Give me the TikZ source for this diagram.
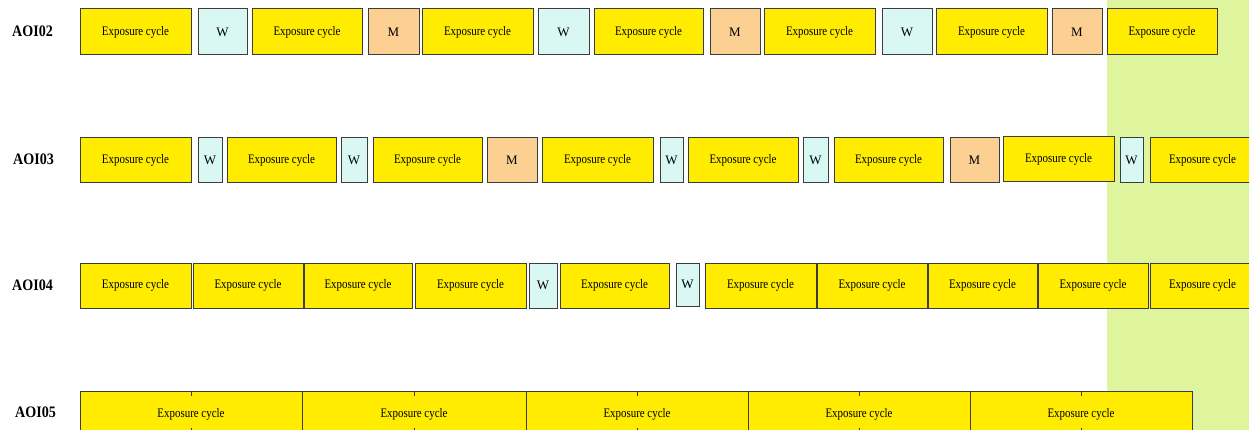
\documentclass[tikz,border=0pt]{standalone}
\usepackage{fontspec}
\setmainfont{Liberation Serif}
\newfontfamily\cycfont[FakeStretch=0.84]{Liberation Serif}
\newfontfamily\aoifont[FakeStretch=0.88]{Liberation Serif}

\definecolor{cycyellow}{RGB}{255,236,0}
\definecolor{waitcyan}{RGB}{217,247,243}
\definecolor{movepeach}{RGB}{252,207,146}
\definecolor{bandgreen}{RGB}{222,245,158}
\definecolor{edgegray}{RGB}{60,60,60}

\tikzset{
  slot/.style={rectangle, draw=edgegray, line width=1pt, inner sep=0pt, outer sep=0pt},
  expo/.style={slot, fill=cycyellow, font=\cycfont\fontsize{13}{15}\selectfont},
  wait/.style={slot, fill=waitcyan, font=\fontsize{13}{15}\selectfont},
  move/.style={slot, fill=movepeach, font=\fontsize{13}{15}\selectfont},
  rowlabel/.style={anchor=west, inner sep=0pt, font=\aoifont\bfseries\fontsize{16}{18}\selectfont},
  tick/.style={draw=edgegray, line width=1pt},
}

% \slotbox{style}{name}{x-left}{x-right}{y-top}{y-bottom}{text}
\newcommand\slotbox[7]{%
  \node[#1, minimum width={(#4)-(#3)}, minimum height={(#6)-(#5)}]
    (#2) at ({((#3)+(#4))/2},{((#5)+(#6))/2}) {#7};}
\newcommand\ecyc[5]{\slotbox{expo}{#1}{#2}{#3}{#4}{#5}{Exposure cycle}}
\newcommand\wslot[5]{\slotbox{wait}{#1}{#2}{#3}{#4}{#5}{W}}
\newcommand\mslot[5]{\slotbox{move}{#1}{#2}{#3}{#4}{#5}{M}}

\begin{document}
\begin{tikzpicture}[x=1pt,y=-1pt]
\useasboundingbox (0,0) rectangle (1249,430);
\clip (0,0) rectangle (1249,430);

% highlighted time window
\fill[bandgreen] (1107,-5) rectangle (1260,440);

% row labels
\node[rowlabel] (aoi02) at (12,31) {AOI02};
\node[rowlabel] (aoi03) at (13,159) {AOI03};
\node[rowlabel] (aoi04) at (12,285) {AOI04};
\node[rowlabel] (aoi05) at (15,412) {AOI05};

% AOI02
\ecyc{a1}{80}{191}{9}{55}
\wslot{a2}{198}{247}{9}{55}
\ecyc{a3}{252}{362}{9}{55}
\mslot{a4}{368}{419}{9}{55}
\ecyc{a5}{422}{533}{9}{55}
\wslot{a6}{538}{589}{9}{55}
\ecyc{a7}{594}{703}{9}{55}
\mslot{a8}{710}{760}{9}{55}
\ecyc{a9}{764}{875}{9}{55}
\wslot{a10}{882}{932}{9}{55}
\ecyc{a11}{936}{1047}{9}{55}
\mslot{a12}{1052}{1102}{9}{55}
\ecyc{a13}{1107}{1217}{9}{55}

% AOI03
\ecyc{b1}{80}{191}{138}{183}
\wslot{b2}{198}{222}{138}{183}
\ecyc{b3}{227}{336}{138}{183}
\wslot{b4}{341}{367}{138}{183}
\ecyc{b5}{373}{482}{138}{183}
\mslot{b6}{487}{537}{138}{183}
\ecyc{b7}{542}{653}{138}{183}
\wslot{b8}{660}{683}{138}{183}
\ecyc{b9}{688}{798}{138}{183}
\wslot{b10}{803}{828}{138}{183}
\ecyc{b11}{834}{943}{138}{183}
\mslot{b12}{950}{999}{138}{183}
\ecyc{b13}{1003}{1114}{137}{182}
\wslot{b14}{1120}{1143}{138}{183}
\ecyc{b15}{1150}{1255}{138}{183}

% AOI04
\ecyc{c1}{80}{191}{263}{308}
\ecyc{c2}{193}{303}{263}{308}
\ecyc{c3}{304}{412}{263}{308}
\ecyc{c4}{415}{526}{263}{308}
\wslot{c5}{529}{557}{263}{308}
\ecyc{c6}{560}{669}{263}{308}
\wslot{c7}{676}{699}{263}{306}
\ecyc{c8}{705}{816}{263}{308}
\ecyc{c9}{817}{927}{263}{308}
\ecyc{c10}{928}{1037}{263}{308}
\ecyc{c11}{1038}{1148}{263}{308}
\ecyc{c12}{1150}{1255}{263}{308}

% AOI05
\ecyc{d1}{80}{302}{391}{437}
\ecyc{d2}{302}{526}{391}{437}
\ecyc{d3}{526}{748}{391}{437}
\ecyc{d4}{748}{970}{391}{437}
\ecyc{d5}{970}{1192}{391}{437}
\foreach \n in {d1,d2,d3,d4,d5}{
  \draw[tick] (\n.north) -- ++(0,5);
  \draw[tick] (\n.south) -- ++(0,-9);
}
\end{tikzpicture}
\end{document}
